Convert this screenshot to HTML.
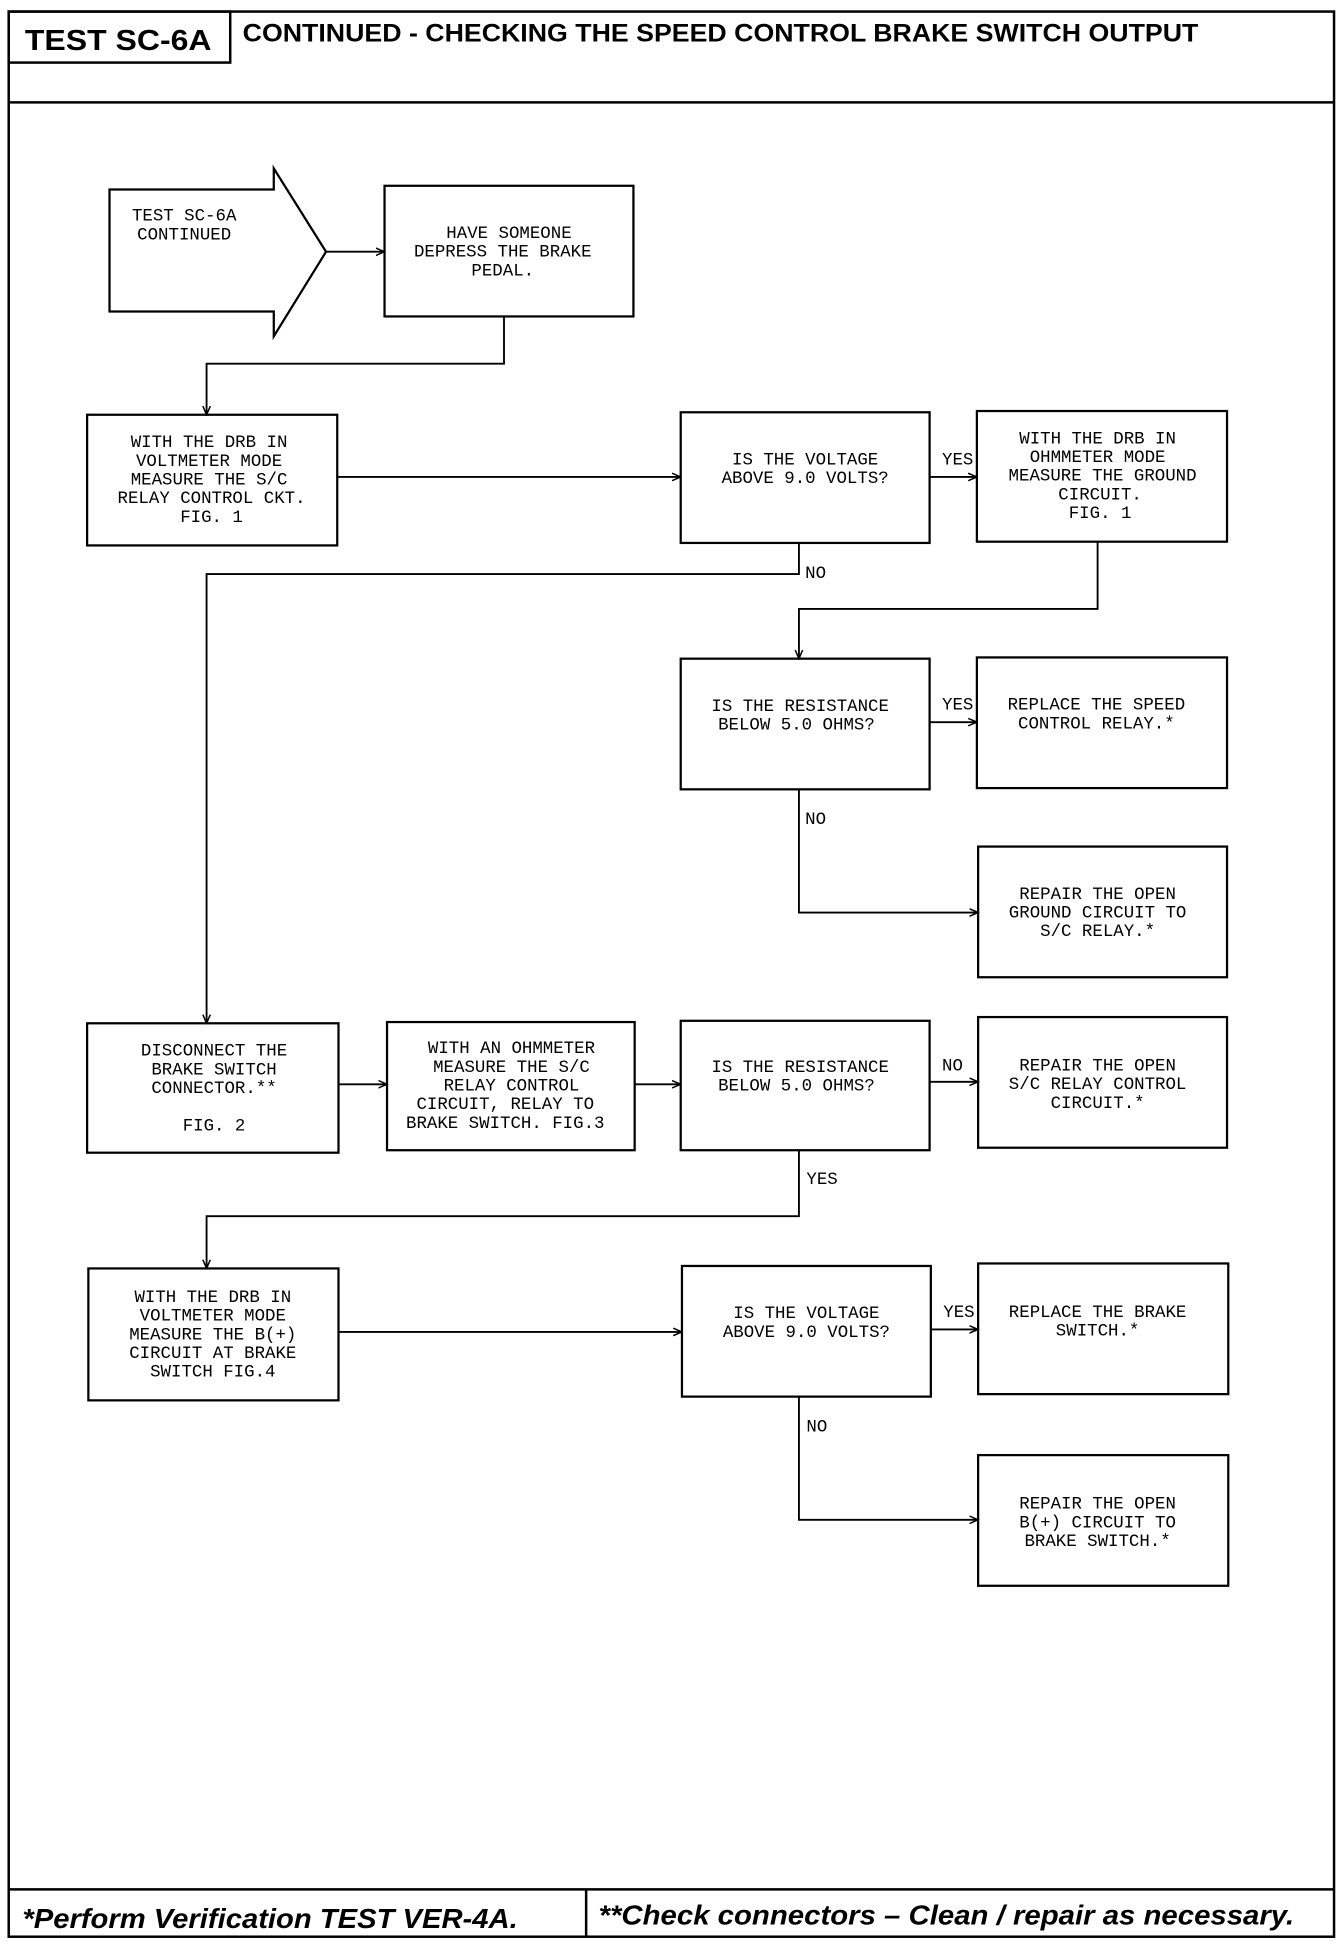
<!DOCTYPE html>
<html><head><style>
html,body{margin:0;padding:0;background:#fff;}
svg{display:block;}
.t{font-family:"Liberation Mono",monospace;font-size:14px;fill:#000;}
.h{font-family:"Liberation Sans",sans-serif;font-weight:bold;fill:#000;}
</style></head><body>
<svg width="1344" height="1952" viewBox="0 0 1080 1568" xmlns="http://www.w3.org/2000/svg">
<defs><marker id="a" markerWidth="8" markerHeight="8" refX="7" refY="4" orient="auto" markerUnits="userSpaceOnUse"><path d="M0,1 L7,4 L0,7" fill="none" stroke="#000" stroke-width="1.2"/></marker></defs>
<g fill="none" stroke="#000" stroke-width="2">
<rect x="7" y="9" width="1065" height="1547"/>
<line x1="7" y1="82" x2="1072" y2="82"/>
<rect x="7" y="9" width="178" height="41"/>
<line x1="7" y1="1518" x2="1072" y2="1518"/>
<line x1="471" y1="1518" x2="471" y2="1556"/>
</g>
<g fill="none" stroke="#000" stroke-width="1.8">
<path d="M88,152 H220 V135 L262,202 L220,270 V250 H88 Z"/>
<rect x="309" y="149" width="200" height="105"/>
<rect x="70" y="333" width="201" height="105"/>
<rect x="547" y="331" width="200" height="105"/>
<rect x="785" y="330" width="201" height="105"/>
<rect x="547" y="529" width="200" height="105"/>
<rect x="785" y="528" width="201" height="105"/>
<rect x="786" y="680" width="200" height="105"/>
<rect x="70" y="822" width="202" height="104"/>
<rect x="311" y="821" width="199" height="103"/>
<rect x="547" y="820" width="200" height="104"/>
<rect x="786" y="817" width="200" height="105"/>
<rect x="71" y="1019" width="201" height="106"/>
<rect x="548" y="1017" width="200" height="105"/>
<rect x="786" y="1015" width="201" height="105"/>
<rect x="786" y="1169" width="201" height="105"/>
</g>
<g fill="none" stroke="#000" stroke-width="1.5" marker-end="url(#a)">
<line x1="262" y1="202" x2="309" y2="202"/>
<polyline points="405,254 405,292 166,292 166,333"/>
<line x1="271" y1="383" x2="547" y2="383"/>
<line x1="747" y1="383" x2="785" y2="383"/>
<polyline points="882,435 882,489 642,489 642,529"/>
<polyline points="642,436 642,461 166,461 166,822"/>
<line x1="747" y1="580" x2="785" y2="580"/>
<polyline points="642,634 642,733 786,733"/>
<line x1="272" y1="871" x2="311" y2="871"/>
<line x1="510" y1="871" x2="547" y2="871"/>
<line x1="747" y1="869" x2="786" y2="869"/>
<polyline points="642,924 642,977 166,977 166,1019"/>
<line x1="272" y1="1070" x2="548" y2="1070"/>
<line x1="748" y1="1068" x2="786" y2="1068"/>
<polyline points="642,1122 642,1221 786,1221"/>
</g>
<text class="h" x="20" y="40" font-size="23" textLength="150" lengthAdjust="spacingAndGlyphs">TEST SC-6A</text>
<text class="h" x="195" y="33" font-size="20" textLength="768" lengthAdjust="spacingAndGlyphs">CONTINUED -  CHECKING THE SPEED CONTROL BRAKE SWITCH OUTPUT</text>
<text class="h" x="18" y="1549" font-size="22" font-style="italic" textLength="398" lengthAdjust="spacingAndGlyphs">*Perform Verification TEST VER-4A.</text>
<text class="h" x="481" y="1546" font-size="22" font-style="italic" textLength="559" lengthAdjust="spacingAndGlyphs">**Check connectors – Clean / repair as necessary.</text>
<g class="t" text-anchor="middle">
<text x="148" y="177">TEST SC-6A</text><text x="148" y="192">CONTINUED</text>
<text x="409" y="191">HAVE SOMEONE</text><text x="404" y="206">DEPRESS THE BRAKE</text><text x="404" y="221">PEDAL.</text>
<text x="168" y="359">WITH THE DRB IN</text><text x="168" y="374">VOLTMETER MODE</text><text x="168" y="389">MEASURE THE S/C</text><text x="170" y="404">RELAY CONTROL CKT.</text><text x="170" y="419">FIG. 1</text>
<text x="647" y="373">IS THE VOLTAGE</text><text x="647" y="388">ABOVE 9.0 VOLTS?</text>
<text x="882" y="356">WITH THE DRB IN</text><text x="882" y="371">OHMMETER MODE</text><text x="886" y="386">MEASURE THE GROUND</text><text x="884" y="401">CIRCUIT.</text><text x="884" y="416">FIG. 1</text>
<text x="643" y="571">IS THE RESISTANCE</text><text x="640" y="586">BELOW 5.0 OHMS?</text>
<text x="881" y="570">REPLACE THE SPEED</text><text x="881" y="585">CONTROL RELAY.*</text>
<text x="882" y="722">REPAIR THE OPEN</text><text x="882" y="737">GROUND CIRCUIT TO</text><text x="882" y="752">S/C RELAY.*</text>
<text x="172" y="848">DISCONNECT THE</text><text x="172" y="863">BRAKE SWITCH</text><text x="172" y="878">CONNECTOR.**</text><text x="172" y="908">FIG. 2</text>
<text x="411" y="846">WITH AN OHMMETER</text><text x="411" y="861">MEASURE THE S/C</text><text x="411" y="876">RELAY CONTROL</text><text x="406" y="891">CIRCUIT, RELAY TO</text><text x="406" y="906">BRAKE SWITCH. FIG.3</text>
<text x="643" y="861">IS THE RESISTANCE</text><text x="640" y="876">BELOW 5.0 OHMS?</text>
<text x="882" y="860">REPAIR THE OPEN</text><text x="882" y="875">S/C RELAY CONTROL</text><text x="882" y="890">CIRCUIT.*</text>
<text x="171" y="1046">WITH THE DRB IN</text><text x="171" y="1061">VOLTMETER MODE</text><text x="171" y="1076">MEASURE THE B(+)</text><text x="171" y="1091">CIRCUIT AT BRAKE</text><text x="171" y="1106">SWITCH FIG.4</text>
<text x="648" y="1059">IS THE VOLTAGE</text><text x="648" y="1074">ABOVE 9.0 VOLTS?</text>
<text x="882" y="1058">REPLACE THE BRAKE</text><text x="882" y="1073">SWITCH.*</text>
<text x="882" y="1212">REPAIR THE OPEN</text><text x="882" y="1227">B(+) CIRCUIT TO</text><text x="882" y="1242">BRAKE SWITCH.*</text>
</g>
<g class="t">
<text x="757" y="373">YES</text><text x="647" y="464">NO</text>
<text x="757" y="570">YES</text><text x="647" y="662">NO</text>
<text x="757" y="860">NO</text><text x="648" y="951">YES</text>
<text x="758" y="1058">YES</text><text x="648" y="1150">NO</text>
</g>
</svg>
</body></html>
